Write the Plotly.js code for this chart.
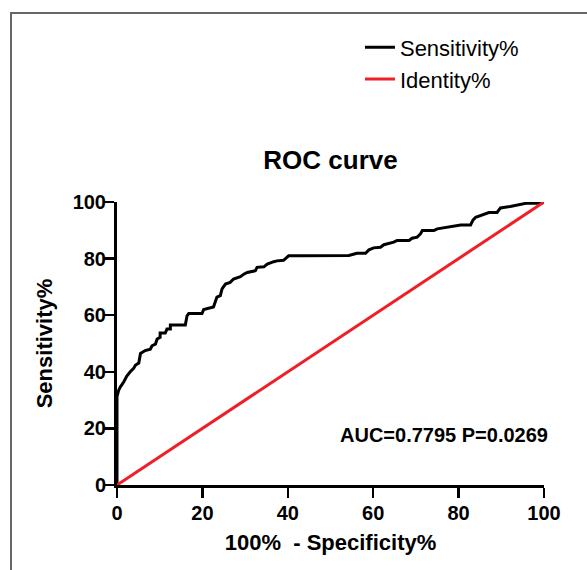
<!DOCTYPE html>
<html>
<head>
<meta charset="utf-8">
<script src="https://cdn.plot.ly/plotly-3.0.1.min.js"></script>
<style>html,body{margin:0;padding:0;background:#fff;}#chart{width:587px;height:570px;}</style>
</head>
<body>
<div id="chart"></div>
<script>
// ROC curve points (100% - Specificity%, Sensitivity%)
const fpr = [0, 0, 0.4, 0.8, 1.6, 2.3, 3.1, 3.9, 4.3, 5.1, 5.5, 6.6, 7.8, 8.2, 9.0, 9.4, 10.1, 10.1, 11.3, 11.7,
  12.5, 12.5, 16.0, 16.4, 16.8, 19.9, 20.3, 22.6, 23.0, 23.4, 24.2, 24.6, 25.4, 26.5, 27.3, 28.9, 29.7, 30.5, 32.4, 32.8,
  34.4, 35.2, 36.7, 37.5, 39.0, 39.8, 40.2, 43.0, 54.3, 56.2, 58.2, 59.0, 60.1, 61.7, 62.5, 64.8, 65.6, 68.4, 69.1, 70.3,
  71.1, 71.5, 74.2, 75.0, 77.8, 80.5, 82.8, 83.4, 84.0, 85.1, 87.1, 89.0, 89.8, 92.1, 94.5, 96.0, 99.5, 100];
const sensitivity = [0, 31.2, 33.5, 34.7, 36.5, 38.5, 40.0, 41.2, 42.3, 43.1, 46.5, 47.5, 48.0, 49.2, 49.8, 51.6, 52.2, 53.7, 53.7, 55.1,
  55.1, 56.5, 56.5, 59.8, 60.6, 60.6, 62.0, 62.9, 64.7, 66.4, 66.9, 69.3, 71.0, 71.6, 72.8, 73.6, 74.5, 75.1, 75.7, 76.9,
  77.1, 78.1, 78.9, 79.2, 79.4, 80.4, 81.0, 81.0, 81.1, 81.9, 81.9, 83.1, 83.8, 84.0, 84.9, 85.8, 86.4, 86.4, 87.2, 87.6,
  88.8, 89.9, 89.9, 90.5, 91.1, 91.9, 91.9, 93.7, 94.6, 95.2, 96.3, 96.3, 97.9, 98.4, 99.2, 99.6, 99.6, 100];
const identityX = [0, 100];
const identityY = [0, 100];
const tickVals = [0, 20, 40, 60, 80, 100];
const seriesNames = ["Sensitivity%", "Identity%"];
const annotationText = "AUC=0.7795 P=0.0269";

const FONT = '"Liberation Sans", Arial, sans-serif';

const traces = [
  {x: fpr, y: sensitivity, name: seriesNames[0], type: 'scatter', mode: 'lines',
   line: {color: '#000000', width: 3}},
  {x: identityX, y: identityY, name: seriesNames[1], type: 'scatter', mode: 'lines',
   line: {color: '#ef1f28', width: 3}}
];

const axisCommon = {
  range: [0, 100], tickvals: tickVals, ticktext: tickVals.map(String),
  showline: true, linecolor: '#000', linewidth: 3, ticks: 'outside', ticklen: 10, tickwidth: 2.5, tickcolor: '#000',
  showgrid: false, zeroline: false, automargin: false,
  tickfont: {family: FONT, size: 20, color: '#000', weight: 'bold'}
};

const layout = {
  width: 587, height: 570,
  margin: {l: 117, r: 43, t: 202, b: 85},
  paper_bgcolor: '#fff', plot_bgcolor: '#fff',
  font: {family: FONT, color: '#000'},
  title: {text: '<b>ROC curve</b>', font: {family: FONT, size: 26, color: '#000'},
          xref: 'paper', x: 0.5, xanchor: 'center', yref: 'container', y: 0.719, yanchor: 'middle'},
  xaxis: Object.assign({}, axisCommon, {
    ticklabelstandoff: -2,
    title: {text: '<b>100%\u00a0 - Specificity%</b>', font: {family: FONT, size: 22, color: '#000'}, standoff: 12}
  }),
  yaxis: Object.assign({}, axisCommon, {
    ticklabelstandoff: -6,
    title: {text: '<b>Sensitivity%</b>', font: {family: FONT, size: 22, color: '#000'}, standoff: 14}
  }),
  showlegend: true,
  legend: {x: 0.569, y: 1.62, xanchor: 'left', yanchor: 'top', bgcolor: 'rgba(0,0,0,0)',
           font: {family: FONT, size: 22, color: '#000'}, tracegroupgap: 0},
  annotations: [
    {text: '<b>' + annotationText + '</b>', xref: 'paper', yref: 'paper', x: 0.765, y: 0.177,
     xanchor: 'center', yanchor: 'middle', showarrow: false, font: {family: FONT, size: 20, color: '#000'}}
  ],
  shapes: [
    {type: 'rect', xref: 'paper', yref: 'paper', x0: -0.2482, x1: 1.2, y0: -0.4, y1: 1.6678,
     line: {color: '#666', width: 2}, fillcolor: 'rgba(0,0,0,0)', layer: 'below'}
  ]
};

Plotly.newPlot('chart', traces, layout, {displayModeBar: false, staticPlot: true});
</script>
</body>
</html>
